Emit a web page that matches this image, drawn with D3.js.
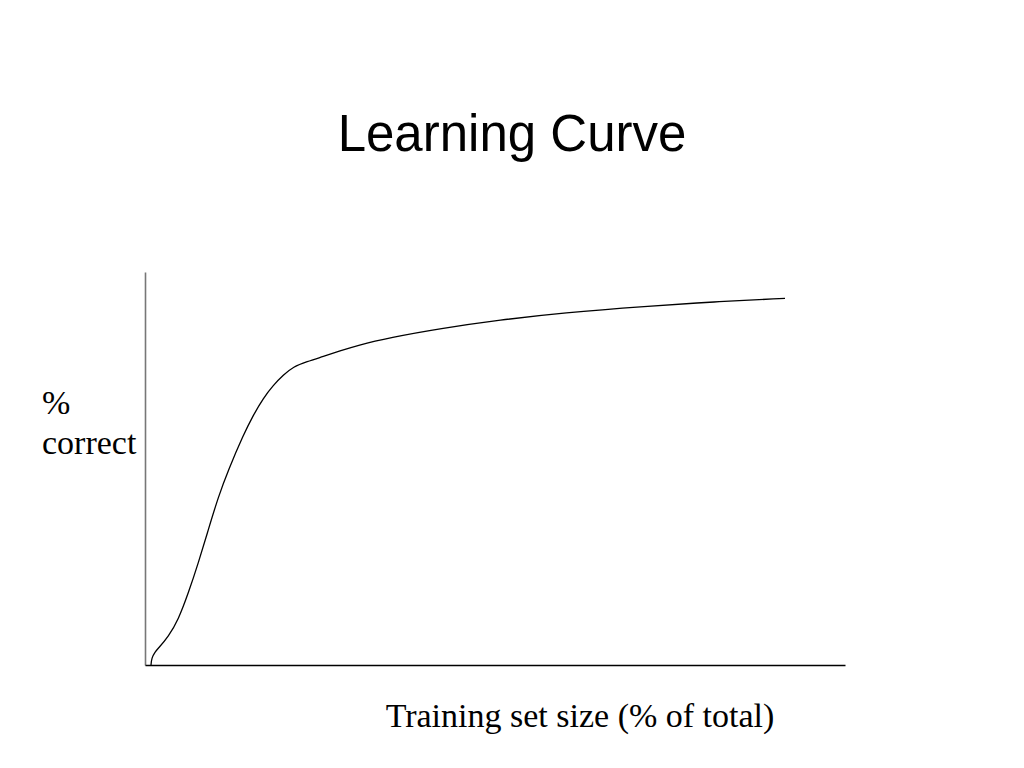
<!DOCTYPE html>
<html>
<head>
<meta charset="utf-8">
<script src="https://cdn.jsdelivr.net/npm/d3@7"></script>
<style>
  html, body { margin: 0; padding: 0; background: #fff; }
  svg { display: block; }
</style>
</head>
<body>
<svg id="chart" width="1024" height="768"></svg>
<script>
// Data: training set size (% of total) vs % correct
const trainingSize = [0.86, 0.95, 1.43, 1.9, 3.33, 4.76, 6.19, 7.61, 9.04, 10.47, 11.9, 14.04, 15.47, 16.9, 18.33, 19.76, 21.19, 23.1, 25.47, 27.86, 30.29, 35.0, 42.14, 50.71, 59.71, 71.71, 81.14, 91.43];
const percentCorrect = [0, 1.78, 3.31, 4.25, 7.2, 11.5, 18.3, 25.9, 34.4, 42.8, 49.6, 58.5, 63.6, 67.9, 71.2, 73.8, 75.9, 77.2, 78.5, 79.9, 81.3, 83.3, 85.6, 87.8, 89.6, 91.3, 92.4, 93.3];
const titleText = "Learning Curve";
const yLabelLines = ["%", "correct"];
const xLabelText = "Training set size (% of total)";

const svg = d3.select("#chart");

const x = d3.scaleLinear().domain([0, 100]).range([145, 845]);
const y = d3.scaleLinear().domain([0, 100]).range([665, 272]);

// Title
svg.append("text")
  .attr("x", 512).attr("y", 151)
  .attr("text-anchor", "middle")
  .attr("font-family", "'Liberation Sans', Arial, sans-serif")
  .attr("font-size", 51)
  .attr("fill", "#000")
  .text(titleText);

// Axes (no ticks)
const yAxis = d3.axisLeft(y).tickValues([]).tickSizeOuter(0);
const gy = svg.append("g").attr("transform", `translate(${x(0)},0)`).call(yAxis);
gy.select(".domain").attr("stroke", "#777").attr("stroke-width", 1.6);

const xAxis = d3.axisBottom(x).tickValues([]).tickSizeOuter(0);
const gx = svg.append("g").attr("transform", `translate(0,${y(0)})`).call(xAxis);
gx.select(".domain").attr("stroke", "#000").attr("stroke-width", 1.4);

// Curve
const data = trainingSize.map((d, i) => ({ x: d, y: percentCorrect[i] }));
const line = d3.line()
  .x(d => x(d.x))
  .y(d => y(d.y))
  .curve(d3.curveBasis);

svg.append("path")
  .datum(data)
  .attr("d", line)
  .attr("fill", "none")
  .attr("stroke", "#000")
  .attr("stroke-width", 1.3);

// Y label
const yl = svg.append("text")
  .attr("font-family", "'Liberation Serif', 'Times New Roman', serif")
  .attr("font-size", 34)
  .attr("fill", "#000");
yl.selectAll("tspan").data(yLabelLines).enter().append("tspan")
  .attr("x", 42)
  .attr("y", (d, i) => 414 + i * 40)
  .text(d => d);

// X label
svg.append("text")
  .attr("x", 580).attr("y", 727)
  .attr("text-anchor", "middle")
  .attr("font-family", "'Liberation Serif', 'Times New Roman', serif")
  .attr("font-size", 34)
  .attr("fill", "#000")
  .text(xLabelText);
</script>
</body>
</html>
